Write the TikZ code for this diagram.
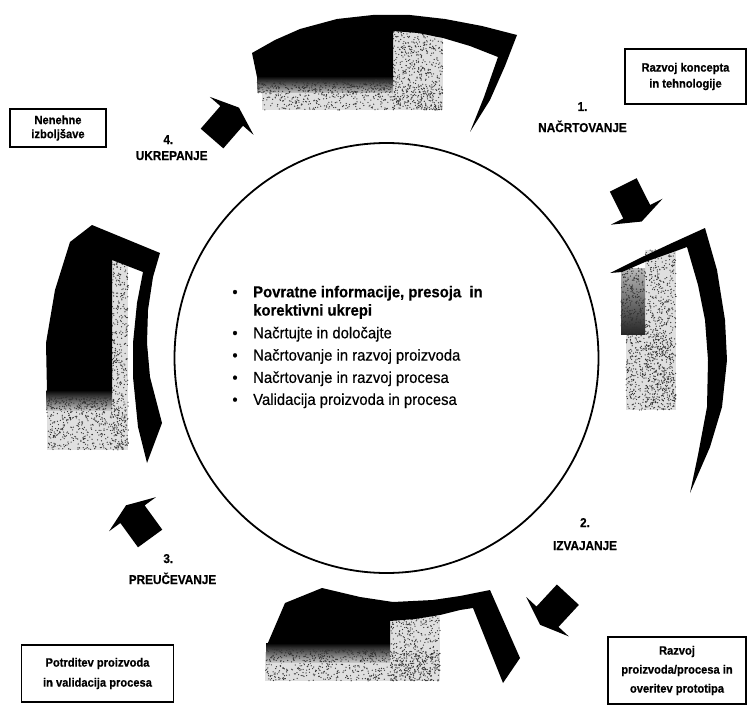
\documentclass[tikz,border=0pt]{standalone}
\usepackage{fontspec}
\setmainfont{Liberation Sans}
\newfontfamily\narrowsans[FakeStretch=0.92, FakeBold=0.6]{Liberation Sans}
\newfontfamily\listsans[FakeStretch=0.94, FakeBold=0.4]{Liberation Sans}
% random stipple inside a rectangle: x1 y1 x2 y2 count
\newcommand{\speckle}[5]{%
  \foreach \k in {1,...,#5}{%
    \pgfmathsetmacro{\sx}{#1+rnd*(#3-#1)}%
    \pgfmathsetmacro{\sy}{#2+rnd*(#4-#2)}%
    \fill[black!80] (\sx,\sy) circle[radius=0.65pt];
  }}
\begin{document}
\begin{tikzpicture}[x=1pt,y=-1pt,
  stagebox/.style={draw=black, line width=1.4pt, inner sep=0pt, align=center},
  steplabel/.style={font=\narrowsans\bfseries\fontsize{12.8}{14}\selectfont, inner sep=0pt, anchor=base},
  itemtext/.style={font=\listsans\fontsize{15.8}{18}\selectfont, inner sep=0pt, anchor=base west},
  itembold/.style={itemtext, font=\listsans\bfseries\fontsize{15.8}{18}\selectfont},
  itembullet/.style={font=\listsans\fontsize{15.8}{18}\selectfont, inner sep=0pt, anchor=base},
  ink/.style={fill=black, draw=none},
  tone/.style={fill=gray!25, draw=none},
  blockarrow/.pic={\fill[black] (-15,30) -- (-15,0) -- (-29,0) -- (0,-11) -- (29,0) -- (15,0) -- (15,30) -- cycle;}
]
\useasboundingbox (0,0) rectangle (749,706);
\fill[white] (0,0) rectangle (749,706);
\pgfmathsetseed{11}

% ---- top segment ----
\fill[tone] (393,31) rectangle (443,110);
\fill[tone] (262,86) rectangle (443,110);
\speckle{393}{31}{443}{110}{480}
\speckle{262}{86}{443}{110}{480}
\fill[ink] (252,53) -- (275,40) -- (300,29) -- (337,19) -- (373,15) -- (410,15) -- (445,19)
  -- (482,26) -- (517,35) -- (505,66) -- (490,100) -- (470,132) -- (484,97) -- (498,57)
  -- (470,46) -- (443,38) -- (418,33) -- (393,31) -- (393,77) -- (257,77) -- cycle;
\shade[top color=black, bottom color=gray!45] (257,76) rectangle (393,93);
\speckle{257}{80}{393}{93}{350}

% ---- right segment ----
\fill[tone] (645,250) rectangle (676,410);
\fill[tone] (626,333) rectangle (676,410);
\speckle{645}{250}{676}{410}{580}
\speckle{626}{333}{676}{410}{460}
\shade[top color=gray!55, bottom color=black!85] (621,268) rectangle (645,334);
\speckle{621}{268}{645}{334}{260}
\fill[ink] (610,273) -- (640,258) -- (672,243) -- (705,228) -- (717,270) -- (725,320)
  -- (727,360) -- (722,407) -- (710,447) -- (690,493) -- (698,455) -- (707,407)
  -- (708,360) -- (705,320) -- (698,285) -- (687,247) -- (676,251) -- (645,262)
  -- (622,272) -- cycle;

% ---- left segment ----
\fill[tone] (111.7,258) rectangle (128.3,450);
\fill[tone] (47,400) rectangle (128.3,450);
\speckle{111.7}{258}{128.3}{450}{380}
\speckle{47}{400}{128.3}{450}{460}
\fill[ink] (70,242) -- (92,225) -- (160,253) -- (153,277) -- (148,310) -- (147,343)
  -- (150,377) -- (162,423) -- (147,463) -- (138,427) -- (133,377) -- (133,343)
  -- (137,303) -- (143,272) -- (112,260) -- (112,392) -- (47,392) -- (46,343)
  -- (55,290) -- cycle;
\shade[top color=black, bottom color=gray!45] (46.5,390) rectangle (112,410);
\speckle{46.5}{395}{112}{410}{220}

% ---- bottom segment ----
\fill[tone] (390,616) rectangle (440,681);
\fill[tone] (265,652) rectangle (440,681);
\speckle{390}{616}{440}{681}{420}
\speckle{265}{652}{440}{681}{540}
\fill[ink] (285,603) -- (322,588) -- (360,597) -- (393,602) -- (433,600) -- (460,596)
  -- (490,590) -- (520,658) -- (503,683) -- (473,608) -- (460,610) -- (440,615)
  -- (415,619) -- (390,621) -- (390,645) -- (267,645) -- cycle;
\shade[top color=black, bottom color=gray!45] (266,643) rectangle (390,662);
\speckle{266}{648}{390}{662}{320}

% ---- central circle ----
\draw[line width=1.8pt] (386.5,358) ellipse [x radius=212pt, y radius=215pt];

% ---- block arrows between the phases ----
\pic[rotate=-41] (arrowfour) at (231.7,115.9) {blockarrow};
\pic[rotate=-153.4] (arrowone) at (636.7,211.7) {blockarrow};
\pic[rotate=137.2] (arrowtwo) at (547.5,616.7) {blockarrow};
\pic[rotate=36] (arrowthree) at (132.5,514.2) {blockarrow};

% ---- phase labels ----
\node[steplabel] (n1) at (582.5,111) {1.};
\node[steplabel] (l1) at (582.5,132) {NAČRTOVANJE};
\node[steplabel] (n2) at (585,527) {2.};
\node[steplabel] (l2) at (585,550) {IZVAJANJE};
\node[steplabel] (n3) at (168.3,563) {3.};
\node[steplabel] (l3) at (172.5,584) {PREUČEVANJE};
\node[steplabel] (n4) at (168.3,144) {4.};
\node[steplabel] (l4) at (171.7,160) {UKREPANJE};

% ---- outcome boxes ----
\node[stagebox, minimum width=121, minimum height=55, font=\narrowsans\bfseries\fontsize{12.1}{16}\selectfont]
  (concept) at (685.5,76.5) {Razvoj koncepta\\in tehnologije};
\node[stagebox, minimum width=96, minimum height=38, font=\narrowsans\bfseries\fontsize{12.1}{14}\selectfont]
  (improve) at (58,128) {Nenehne\\izboljšave};
\node[stagebox, minimum width=152, minimum height=57, font=\narrowsans\bfseries\fontsize{12.1}{20}\selectfont]
  (validate) at (97.5,673.5) {Potrditev proizvoda\\in validacija procesa};
\node[stagebox, minimum width=138, minimum height=67, font=\narrowsans\bfseries\fontsize{12.1}{19}\selectfont]
  (prototype) at (677,670.5) {Razvoj\\proizvoda/procesa in\\overitev prototipa};

% ---- list inside the circle ----
\node[itembullet] (b1) at (235,297.3) {•};
\node[itembullet] (b2) at (235,338.3) {•};
\node[itembullet] (b3) at (235,360.6) {•};
\node[itembullet] (b4) at (235,382.9) {•};
\node[itembullet] (b5) at (235,404.9) {•};
\node[itembold] (t1) at (253,297.3) {Povratne informacije, presoja\ \ in};
\node[itembold] (t1b) at (253,315.6) {korektivni ukrepi};
\node[itemtext] (t2) at (253,338.3) {Načrtujte in določajte};
\node[itemtext] (t3) at (253,360.6) {Načrtovanje in razvoj proizvoda};
\node[itemtext] (t4) at (253,382.9) {Načrtovanje in razvoj procesa};
\node[itemtext] (t5) at (253,404.9) {Validacija proizvoda in procesa};
\end{tikzpicture}
\end{document}
